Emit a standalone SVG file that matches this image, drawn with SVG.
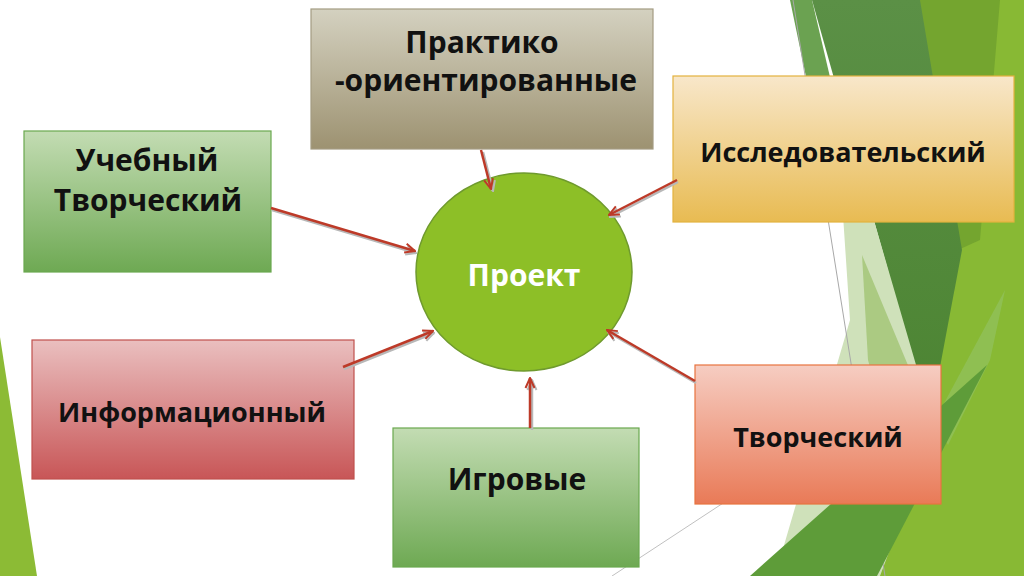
<svg xmlns="http://www.w3.org/2000/svg" width="1024" height="576" viewBox="0 0 1024 576">
<defs>
<linearGradient id="gOlive" x1="0" y1="0" x2="0" y2="1"><stop offset="0" stop-color="#d4d1c0"/><stop offset="1" stop-color="#9d9271"/></linearGradient>
<linearGradient id="gGreen" x1="0" y1="0" x2="0" y2="1"><stop offset="0" stop-color="#c3dcb3"/><stop offset="1" stop-color="#6ea953"/></linearGradient>
<linearGradient id="gGold" x1="0" y1="0" x2="0" y2="1"><stop offset="0" stop-color="#f8e7ca"/><stop offset="1" stop-color="#e8bb52"/></linearGradient>
<linearGradient id="gRed" x1="0" y1="0" x2="0" y2="1"><stop offset="0" stop-color="#eabfbf"/><stop offset="1" stop-color="#c85657"/></linearGradient>
<linearGradient id="gSalmon" x1="0" y1="0" x2="0" y2="1"><stop offset="0" stop-color="#f6cdc2"/><stop offset="1" stop-color="#e97a57"/></linearGradient>
<linearGradient id="gDark" x1="0" y1="0" x2="0" y2="1"><stop offset="0" stop-color="#5b9046"/><stop offset="1" stop-color="#4c8432"/></linearGradient>
<marker id="ah" viewBox="0 0 12 12" refX="11" refY="6" markerWidth="12" markerHeight="12" markerUnits="userSpaceOnUse" orient="auto">
<path d="M1,1.5 L11,6 L1,10.5" fill="none" stroke="#bd3a28" stroke-width="2"/>
</marker>
<marker id="ahs" viewBox="0 0 12 12" refX="11" refY="6" markerWidth="12" markerHeight="12" markerUnits="userSpaceOnUse" orient="auto">
<path d="M1,1.5 L11,6 L1,10.5" fill="none" stroke="#b8b8b8" stroke-width="2"/>
</marker>
<style>
.lbl{font-family:"Open Sans","DejaVu Sans",sans-serif;font-weight:bold;fill:#111;text-anchor:middle}
.conn{stroke:#bd3a28;stroke-width:2.5;fill:none;marker-end:url(#ah)}
.shad{stroke:#b8b8b8;stroke-width:2.5;fill:none;marker-end:url(#ahs)}
.box{stroke-width:1.2}
</style>
</defs>
<rect width="1024" height="576" fill="#ffffff"/>
<g id="background">
<polygon points="0,337 37,576 0,576" fill="#8cbb35"/>
<polygon points="905,0 1024,0 1024,576 870,576" fill="#88b934"/>
<polygon points="918,0 1000,0 980,240 958,250" fill="#74a52f"/>
<polygon points="790,0 812,0 840,120 815,120" fill="#6ba251"/>
<polygon points="812,0 920,0 962,250 930,420" fill="url(#gDark)"/>
<polygon points="842,200 868,200 935,430 880,576 775,576 850,320" fill="#cfe1ba"/>
<polygon points="862,255 935,430 900,475 868,360" fill="#abca82"/>
<polygon points="935,420 1005,290 990,360 948,445" fill="#93c25f" opacity="0.7"/>
<line x1="793" y1="0" x2="885" y2="576" stroke="#a8a8a8" stroke-width="1"/>
<polygon points="750,576 877,576 987,365" fill="#5e9c39"/>
<line x1="612" y1="576" x2="740" y2="492" stroke="#c0c0c0" stroke-width="1"/>
</g>
<g id="node-center">
<ellipse cx="524" cy="272" rx="108" ry="99" fill="#8dbf27" stroke="#6f9a2e" stroke-width="1.5"/>
<text x="524" y="286" class="lbl" style="fill:#ffffff" font-size="30">Проект</text>
</g>
<g id="node-praktiko">
<rect class="box" x="311" y="9" width="342" height="140" fill="url(#gOlive)" stroke="#a39c82"/>
<text x="482" y="53" class="lbl" font-size="30">Практико</text>
<text x="486" y="91" class="lbl" font-size="30">-ориентированные</text>
</g>
<g id="node-uchebny">
<rect class="box" x="24" y="131" width="247" height="141" fill="url(#gGreen)" stroke="#6aa84f"/>
<text x="147" y="171" class="lbl" font-size="30">Учебный</text>
<text x="148" y="211" class="lbl" font-size="30">Творческий</text>
</g>
<g id="node-issled">
<rect class="box" x="673" y="76" width="341" height="146" fill="url(#gGold)" stroke="#e3b23e"/>
<text x="843" y="162" class="lbl" font-size="27">Исследовательский</text>
</g>
<g id="node-inform">
<rect class="box" x="32" y="340" width="322" height="139" fill="url(#gRed)" stroke="#c0504d"/>
<text x="192" y="422" class="lbl" font-size="27">Информационный</text>
</g>
<g id="node-igrovye">
<rect class="box" x="393" y="428" width="246" height="139" fill="url(#gGreen)" stroke="#6aa84f"/>
<text x="517" y="490" class="lbl" font-size="30">Игровые</text>
</g>
<g id="node-tvorch">
<rect class="box" x="695" y="365" width="246" height="139" fill="url(#gSalmon)" stroke="#e8733f"/>
<text x="818" y="447" class="lbl" font-size="27">Творческий</text>
</g>
<g id="connectors">
<line class="shad" x1="483" y1="152" x2="493" y2="191"/>
<line class="shad" x1="272" y1="210" x2="416" y2="253"/>
<line class="shad" x1="678" y1="182" x2="610" y2="217"/>
<line class="shad" x1="696" y1="383" x2="608" y2="332"/>
<line class="shad" x1="344" y1="369" x2="434" y2="333"/>
<line class="shad" x1="532" y1="430" x2="532" y2="380"/>
<line class="conn" x1="481" y1="150" x2="491" y2="189"/>
<line class="conn" x1="271" y1="208" x2="415" y2="251"/>
<line class="conn" x1="677" y1="180" x2="609" y2="215"/>
<line class="conn" x1="695" y1="381" x2="607" y2="330"/>
<line class="conn" x1="343" y1="367" x2="433" y2="331"/>
<line class="conn" x1="530" y1="428" x2="530" y2="378"/>
</g>
</svg>
